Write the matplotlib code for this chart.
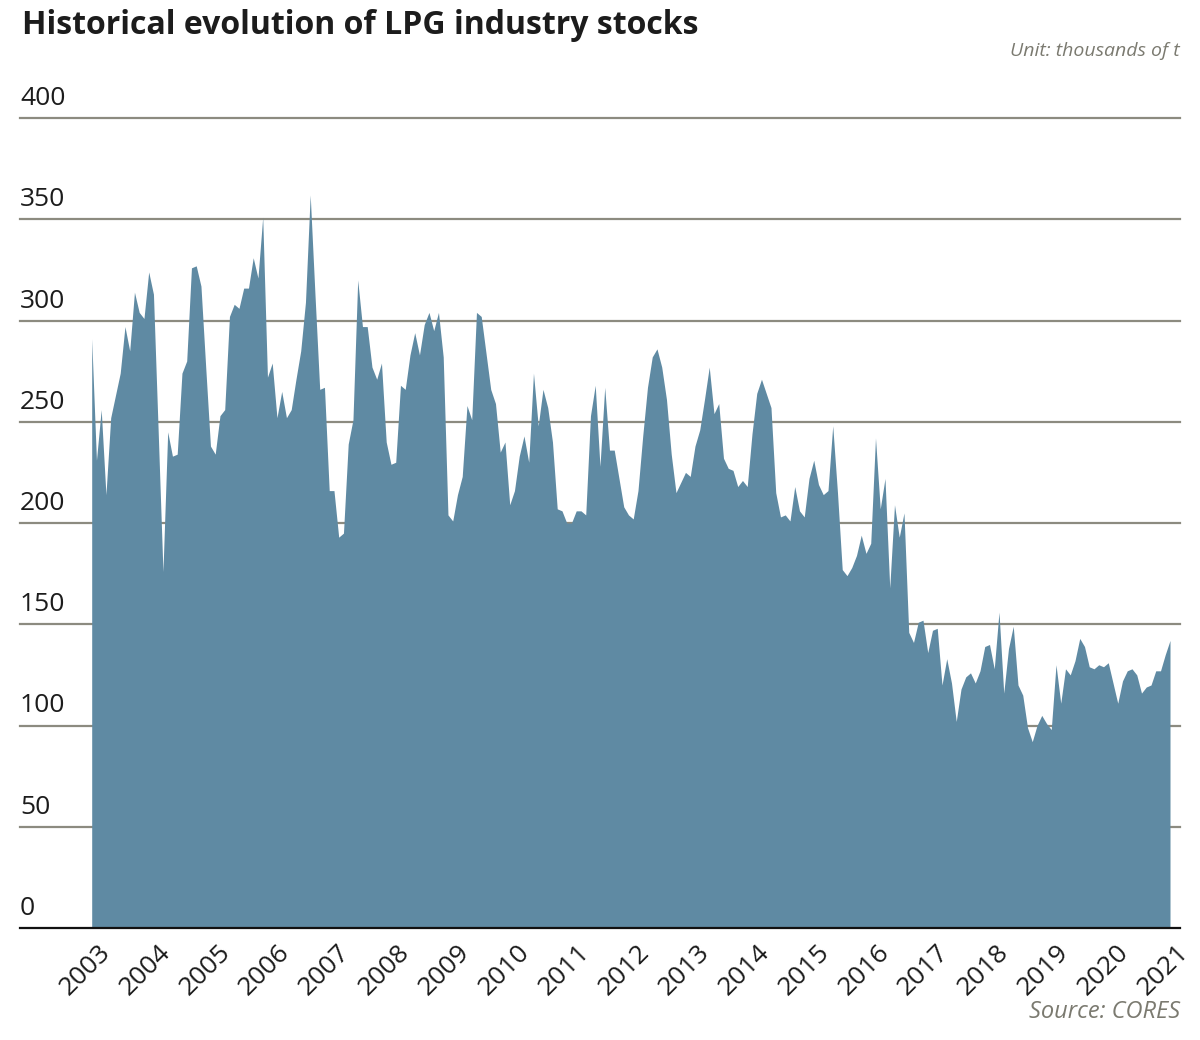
import numpy as np
import matplotlib
matplotlib.use("Agg")
import matplotlib.pyplot as plt
from matplotlib.transforms import ScaledTranslation, blended_transform_factory

# ---- data (thousands of tonnes) ----
title = "Historical evolution of LPG industry stocks"
unit_label = "Unit: thousands of t"
source_label = "Source: CORES"
start_year, end_year = 2003, 2021
year_labels = [str(y) for y in range(start_year, end_year + 1)]
y_ticks = [0, 50, 100, 150, 200, 250, 300, 350, 400]
stocks = [
    291, 231, 256, 214, 252, 263, 274, 297, 285, 314, 304, 301, 324, 313, 245, 176,
    245, 233, 234, 274, 280, 326, 327, 317, 277, 238, 234, 253, 256, 302, 308, 306,
    316, 316, 331, 321, 351, 272, 279, 252, 265, 252, 256, 271, 285, 309, 362, 313,
    266, 267, 216, 216, 193, 195, 239, 251, 320, 297, 297, 277, 271, 279, 240, 229,
    230, 268, 266, 283, 294, 283, 298, 304, 295, 304, 282, 204, 201, 214, 223, 258,
    251, 304, 302, 284, 266, 259, 235, 240, 209, 216, 233, 243, 230, 274, 248, 266,
    257, 240, 207, 206, 200, 200, 206, 206, 204, 253, 268, 228, 267, 236, 236, 222,
    208, 204, 202, 216, 243, 267, 282, 286, 277, 261, 234, 215, 220, 225, 223, 238,
    246, 261, 277, 254, 259, 232, 227, 226, 218, 221, 218, 244, 264, 271, 264, 257,
    215, 203, 204, 201, 218, 206, 203, 222, 231, 219, 214, 216, 248, 215, 177, 174,
    178, 184, 194, 185, 190, 242, 207, 222, 168, 209, 193, 205, 146, 141, 151, 152,
    136, 147, 148, 120, 133, 121, 102, 118, 124, 126, 121, 127, 139, 140, 128, 156,
    116, 138, 149, 120, 115, 99, 92, 100, 105, 101, 98, 130, 111, 128, 125, 132,
    143, 139, 129, 128, 130, 129, 131, 121, 111, 122, 127, 128, 125, 116, 119, 120,
    127, 127, 135, 142,
]

# ---- style ----
FONT = ["Open Sans", "DejaVu Sans"]
plt.rcParams["font.family"] = FONT
fill_color = "#5f8aa3"
grid_color = "#8c8b80"
text_color = "#1c1c1c"
grey_text = "#7b7a70"

W, H, DPI = 1200, 1040, 100
fig = plt.figure(figsize=(W / DPI, H / DPI), dpi=DPI)
fig.patch.set_facecolor("white")

left, right = 20 / W, 1180 / W
bottom, top = 1 - 928 / H, 1 - 118 / H
ax = fig.add_axes([left, bottom, right - left, top - bottom])

x = np.linspace(start_year, end_year, len(stocks))
ax.fill_between(x, stocks, 0, color=fill_color, linewidth=0, zorder=2)

px_per_year = (1170 - 91.7) / (end_year - start_year)
ax.set_xlim(start_year - (91.7 - 20) / px_per_year, end_year + (1180 - 1170) / px_per_year)
ax.set_ylim(0, 400)

for s in ax.spines.values():
    s.set_visible(False)

# gridlines
for v in y_ticks[1:]:
    ax.axhline(v, color=grid_color, lw=1.6, zorder=1, clip_on=False)
ax.axhline(0, color="#111111", lw=1.6, zorder=3, clip_on=False)

# y labels sit above the gridlines
ax.set_yticks([])
ytrans = blended_transform_factory(ax.transAxes, ax.transData)
for v in y_ticks:
    ax.text(0, v, str(v), transform=ytrans + ScaledTranslation(0, 7 / DPI, fig.dpi_scale_trans),
            ha="left", va="bottom", fontsize=19, color=text_color, clip_on=False)

# x labels
years = list(range(start_year, end_year + 1))
ax.set_xticks(years)
ax.set_xticklabels(year_labels, rotation=45, ha="right", va="center",
                   rotation_mode="anchor", fontsize=19, color=text_color)
ax.tick_params(axis="x", length=0, pad=15)
for lab in ax.get_xticklabels():
    lab.set_transform(lab.get_transform() + ScaledTranslation(15 / DPI, 0, fig.dpi_scale_trans))

# title & notes
fig.text(22 / W, 1 - 26 / H, title, ha="left", va="center", fontsize=23,
         fontweight="bold", color=text_color)
fig.text(1180 / W, 1 - 51 / H, unit_label, ha="right", va="center", fontsize=14,
         style="italic", color=grey_text)
fig.text(1180 / W, 1 - 1012 / H, source_label, ha="right", va="center", fontsize=17,
         style="italic", color=grey_text)

fig.savefig("out.png", dpi=DPI, facecolor="white")
